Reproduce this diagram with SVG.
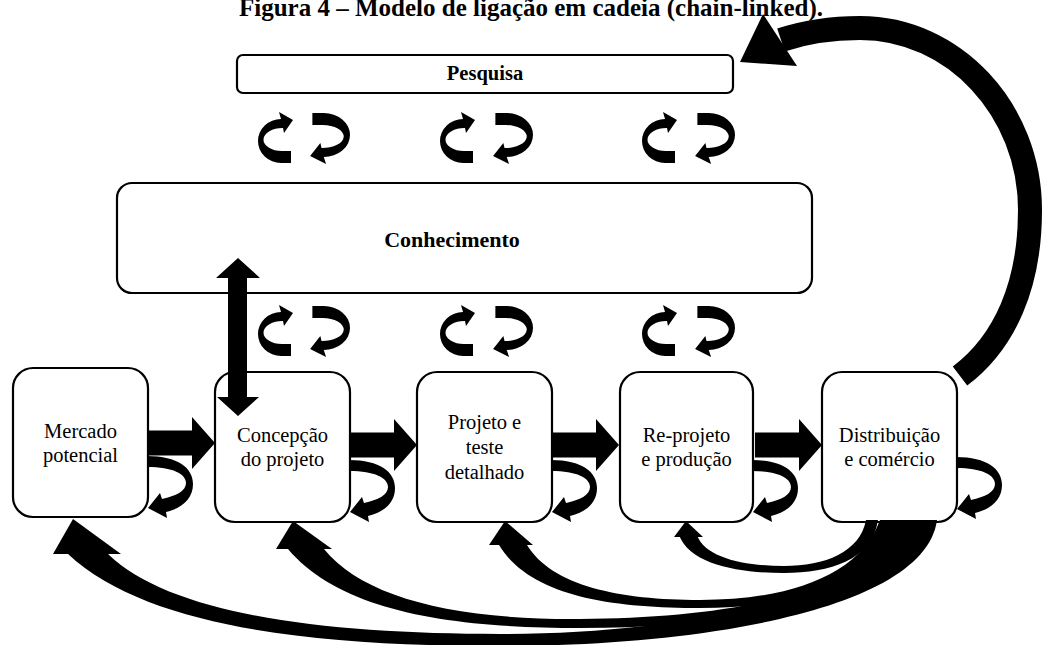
<svg xmlns="http://www.w3.org/2000/svg" width="1045" height="645" viewBox="0 0 1045 645">
  <style>
    .box { fill: #fff; stroke: #000; stroke-width: 2.2; }
    .lbl { font-family: "Liberation Serif", "Times New Roman", serif; font-size: 20.5px; fill: #000; text-anchor: middle; }
    .bold { font-weight: bold; }
    .ink { fill: #000; stroke: none; }
    .band { fill: none; stroke: #000; stroke-linecap: butt; }
  </style>
  <defs>
    <!-- half-turn cycle arrow: open to the right, head on the top arm -->
    <path id="cyc" d="M23,7 A23,22 0 0 0 23,51 L33,51 L33,39 L24,39 A19,11.5 0 0 1 25,16 L26,21 L35,8 L21,0 Z"/>
    <!-- feedback loop leaving the right side of a phase box and returning to it -->
    <path id="loop" d="M-1,0 C30,0 45,12 45,28 C45,42 35,52 18,56 L19,62 L0,52 L12,37 L14,43 C28,40 38,35 38,27 C38,18 25,11 -1,11 Z"/>
    <!-- thick forward arrow between consecutive phases -->
    <path id="fwd" d="M0,-12.5 H44 V-26 L67,0 L44,26 V12.5 H0 Z"/>
  </defs>

  <!-- caption -->
  <text class="lbl bold" x="531" y="16" style="font-size:25px">Figura 4 – Modelo de ligação em cadeia (chain-linked).</text>

  <g id="node-pesquisa">
    <rect class="box" x="237" y="55" width="496" height="38" rx="6"/>
    <text class="lbl bold" x="485" y="80">Pesquisa</text>
  </g>

  <g id="node-conhecimento">
    <rect class="box" x="117" y="183" width="695" height="110" rx="15"/>
    <text class="lbl bold" x="452" y="247" style="font-size:22px">Conhecimento</text>
  </g>

  <g id="node-mercado">
    <rect class="box" x="13" y="368" width="135" height="149" rx="20"/>
    <text class="lbl" x="80.5" y="438">Mercado</text>
    <text class="lbl" x="80.5" y="462">potencial</text>
  </g>

  <g id="node-concepcao">
    <rect class="box" x="215" y="372" width="135" height="150" rx="20"/>
    <text class="lbl" x="282.5" y="442">Concepção</text>
    <text class="lbl" x="282.5" y="466">do projeto</text>
  </g>

  <g id="node-projeto">
    <rect class="box" x="417" y="372" width="135" height="150" rx="20"/>
    <text class="lbl" x="484.5" y="429">Projeto e</text>
    <text class="lbl" x="484.5" y="454">teste</text>
    <text class="lbl" x="484.5" y="479">detalhado</text>
  </g>

  <g id="node-reprojeto">
    <rect class="box" x="620" y="372" width="133" height="150" rx="20"/>
    <text class="lbl" x="686.5" y="442">Re-projeto</text>
    <text class="lbl" x="686.5" y="466">e produção</text>
  </g>

  <g id="node-distribuicao">
    <rect class="box" x="822" y="372" width="135" height="150" rx="20"/>
    <text class="lbl" x="889.5" y="442">Distribuição</text>
    <text class="lbl" x="889.5" y="466">e comércio</text>
  </g>

  <g id="connectors">
    <!-- exchange cycles between research and knowledge -->
    <g class="ink">
      <use href="#cyc" transform="translate(258,112)"/>
      <use href="#cyc" transform="translate(350,164) rotate(180) scale(1.14,1)"/>
      <use href="#cyc" transform="translate(440,112)"/>
      <use href="#cyc" transform="translate(533,164) rotate(180) scale(1.14,1)"/>
      <use href="#cyc" transform="translate(642,112)"/>
      <use href="#cyc" transform="translate(735,164) rotate(180) scale(1.14,1)"/>
    </g>
    <!-- exchange cycles between knowledge and the phases -->
    <g class="ink">
      <use href="#cyc" transform="translate(258,305)"/>
      <use href="#cyc" transform="translate(350,357) rotate(180) scale(1.14,1)"/>
      <use href="#cyc" transform="translate(440,305)"/>
      <use href="#cyc" transform="translate(533,357) rotate(180) scale(1.14,1)"/>
      <use href="#cyc" transform="translate(642,305)"/>
      <use href="#cyc" transform="translate(735,357) rotate(180) scale(1.14,1)"/>
    </g>

    <!-- main chain -->
    <g class="ink">
      <use href="#fwd" transform="translate(148,443)"/>
      <use href="#fwd" transform="translate(350,445)"/>
      <use href="#fwd" transform="translate(552,445)"/>
      <use href="#fwd" transform="translate(755,445)"/>
    </g>

    <!-- local feedback loops -->
    <g class="ink">
      <use href="#loop" transform="translate(148,456)"/>
      <use href="#loop" transform="translate(350,460)"/>
      <use href="#loop" transform="translate(552,460)"/>
      <use href="#loop" transform="translate(753,460)"/>
      <use href="#loop" transform="translate(957,457)"/>
    </g>

    <!-- knowledge <-> design concept -->
    <path class="ink" d="M238,258 L260,278 H247 V397 H259 L238,416 L217,397 H228 V278 H216 Z"/>

    <!-- feedback from distribution up to research -->
    <path class="band" stroke-width="24" d="M960,376 C1005,342 1030,285 1030,210 C1030,110 954,28 860,28 C830,28 805,32 781,40"/>
    <path class="ink" d="M763,14 L740,62 L797,66 Z"/>

    <!-- feedback from distribution back to each earlier phase -->
    <g class="ink">
      <path d="M679,535 C690,565 740,573 784,573 C830,573 872,560 878,520 L866,520 C860,552 825,566 784,566 C745,566 705,558 697,535 Z"/>
      <path d="M674,537 L686,521 L703,537 Z"/>

      <path d="M499,545 C530,596 610,608 700,608 C800,608 880,580 915,520 L880,520 C860,575 790,600 700,600 C620,600 552,586 527,545 Z"/>
      <path d="M489,545 L505,521 L533,545 Z"/>

      <path d="M288,549 C340,611 450,628 580,628 C740,628 900,600 930,520 L895,520 C870,590 740,618 580,619 C450,620 362,596 324,549 Z"/>
      <path d="M276,549 L293,521 L332,549 Z"/>

      <path d="M68,554 C150,631 330,646 500,646 C700,646 925,610 937,520 L905,520 C890,590 700,634 500,634 C330,634 172,616 108,554 Z"/>
      <path d="M53,554 L73,519 L121,554 Z"/>
    </g>
  </g>
</svg>
